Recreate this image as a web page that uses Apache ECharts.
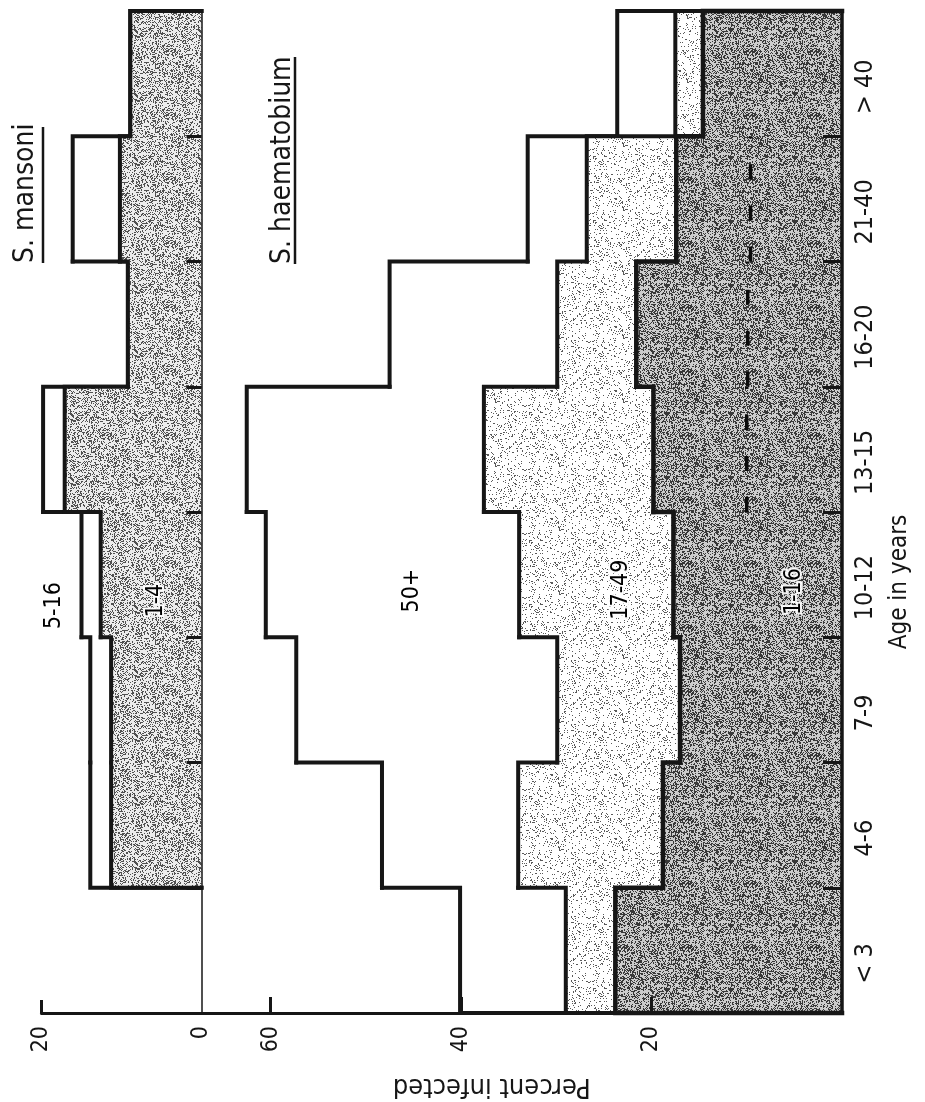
<!DOCTYPE html>
<html>
<head>
<meta charset="utf-8">
<script src="https://cdn.jsdelivr.net/npm/echarts@6/dist/echarts.min.js"></script>
<style>
html,body{margin:0;padding:0;background:#ffffff;}
#chart{width:925px;height:1102px;}
</style>
</head>
<body>
<div id="chart"></div>
<script>
// ---------------- data ----------------
const ageGroups = ['< 3', '4-6', '7-9', '10-12', '13-15', '16-20', '21-40', '> 40'];

// S. mansoni, percent infected
const mansoni_1_4  = [null, 11.3, 11.3, 12.6, 17.1, 9.2, 10.2, 8.9];
const mansoni_5_16 = [null, 13.9, 13.9, 15.0, 19.8, 9.2, 16.1, 8.9];

// S. haematobium, percent infected
const haem_1_16   = [23.8, 18.8, 17.0, 17.7, 19.8, 21.6, 17.4, 14.6];
const haem_17_49  = [29.0, 34.0, 29.9, 33.9, 37.6, 29.9, 26.8, 17.5];
const haem_50plus = [40.1, 48.3, 57.3, 60.5, 62.5, 47.5, 33.0, 23.6];
const haem_dashed = [null, null, null, null, 10.0, 9.9, 9.6, null];

// tick labels
const mansoniTickLabels = [0, 20];
const mansoniTicks = [20];
const haemTicks = [20, 40, 60];

// ---------------- styling ----------------
const FONT = "'Liberation Sans Narrow','DejaVu Sans Condensed','Liberation Sans',sans-serif";
const INK = '#161616';

function stipple(dark, light, density, seed) {
  const size = 64;
  const c = document.createElement('canvas');
  c.width = size; c.height = size;
  const ctx = c.getContext('2d');
  ctx.fillStyle = light;
  ctx.fillRect(0, 0, size, size);
  ctx.fillStyle = dark;
  for (let y = 0; y < size; y++) {
    for (let x = 0; x < size; x++) {
      let h = Math.imul(x + 3 + seed, 374761393) ^ Math.imul(y + 11, 668265263);
      h = Math.imul(h ^ (h >>> 13), 1274126177);
      h ^= h >>> 16;
      if ((h >>> 0) / 4294967296 < density) ctx.fillRect(x, y, 1, 1);
    }
  }
  return { image: c, repeat: 'repeat' };
}

const fillDark   = stipple('#383838', '#cccccc', 0.43, 1);
const fillMedium = stipple('#505050', '#ececec', 0.33, 5);
const fillLight  = stipple('#5a5a5a', '#ffffff', 0.11, 9);

function stepSeries(o) {
  const vals = o.values;
  return {
    type: 'custom',
    name: o.name,
    coordinateSystem: 'cartesian2d',
    xAxisIndex: o.axis,
    yAxisIndex: o.axis,
    z: o.z,
    silent: true,
    data: vals.map((v, i) => [v == null ? '-' : v, i]),
    encode: { x: 0, y: 1 },
    renderItem: function (params, api) {
      const i = params.dataIndex;
      const v = vals[i];
      if (v == null) return null;
      const p = api.coord([v, i]);
      const base = api.coord([0, i]);
      const h = api.size([0, 1])[1];
      const yTop = p[1] - h / 2;
      const yBot = p[1] + h / 2;
      const next = vals[i + 1];
      const xNext = (next == null) ? base[0] : api.coord([next, i + 1])[0];
      const prev = i > 0 ? vals[i - 1] : null;
      const pts = [];
      if (prev == null) pts.push([base[0], yBot]);
      pts.push([p[0], yBot], [p[0], yTop], [xNext, yTop]);
      const children = [
        { type: 'rect', z2: 0,
          shape: { x: p[0], y: yTop - 0.5, width: base[0] - p[0], height: h + 1 },
          style: { fill: o.fill } },
        { type: 'polyline', z2: 10,
          shape: { points: pts },
          style: { stroke: INK, lineWidth: o.lw, fill: null, lineCap: 'square', lineJoin: 'miter' } }
      ];
      if (o.label && o.label.index === i) {
        const lp = api.coord([o.label.value, i]);
        const st = { text: o.label.text, font: '23px ' + FONT, fill: '#000000',
                     align: 'center', verticalAlign: 'middle' };
        if (o.label.halo) { st.stroke = 'rgba(255,255,255,0.9)'; st.lineWidth = 4; st.strokeFirst = true; }
        children.push({
          type: 'text', z2: 20, x: lp[0], y: lp[1] + o.label.dy, rotation: Math.PI / 2,
          style: st
        });
      }
      return { type: 'group', children: children };
    }
  };
}

function dashedSeries(vals, axis) {
  return {
    type: 'custom', name: 'dashed', coordinateSystem: 'cartesian2d',
    xAxisIndex: axis, yAxisIndex: axis, z: 6, silent: true,
    data: vals.map((v, i) => [v == null ? '-' : v, i]),
    encode: { x: 0, y: 1 },
    renderItem: function (params, api) {
      const i = params.dataIndex;
      const v = vals[i];
      if (v == null) return null;
      const p = api.coord([v, i]);
      const h = api.size([0, 1])[1];
      return {
        type: 'line',
        shape: { x1: p[0], y1: p[1] + h / 2, x2: p[0], y2: p[1] - h / 2 },
        style: { stroke: '#0c0c0c', lineWidth: 3.5, lineDash: [15, 26] }
      };
    }
  };
}

const chart = echarts.init(document.getElementById('chart'), null, { renderer: 'canvas' });

const option = {
  backgroundColor: '#ffffff',
  animation: false,
  grid: [
    { left: 41.5, width: 160, top: 11, height: 1002, outerBoundsMode: 'none', containLabel: false },
    { left: 201.5, width: 640.5, top: 11, height: 1002, outerBoundsMode: 'none', containLabel: false }
  ],
  xAxis: [
    { gridIndex: 0, type: 'value', inverse: true, min: 0, max: 20, z: 10,
      axisLine: { show: true, onZero: false, lineStyle: { color: INK, width: 3 } },
      axisTick: { show: true, inside: true, length: 13, customValues: mansoniTicks, lineStyle: { color: INK, width: 3 } },
      axisLabel: { show: true, customValues: mansoniTickLabels, rotate: 90, margin: 13, fontSize: 23, fontFamily: FONT, color: INK },
      splitLine: { show: false } },
    { gridIndex: 1, type: 'value', inverse: true, min: 0, max: 67.25, z: 10,
      axisLine: { show: true, onZero: false, lineStyle: { color: INK, width: 3 } },
      axisTick: { show: true, inside: true, length: 16, customValues: haemTicks, lineStyle: { color: INK, width: 3 } },
      axisLabel: { show: true, customValues: haemTicks, rotate: 90, margin: 13, fontSize: 23, fontFamily: FONT, color: INK },
      splitLine: { show: false },
      name: 'Percent infected', nameLocation: 'middle', nameRotate: 180, nameGap: 60,
      nameTextStyle: { fontSize: 27, fontFamily: FONT, color: INK, padding: [0, 0, 0, 60] } }
  ],
  yAxis: [
    { gridIndex: 0, type: 'category', data: ageGroups, position: 'right', z: 10,
      axisLine: { show: true, lineStyle: { color: INK, width: 1.5 } },
      axisTick: { show: true, inside: true, length: 15, lineStyle: { color: INK, width: 3 } },
      axisLabel: { show: false },
      splitLine: { show: false } },
    { gridIndex: 1, type: 'category', data: ageGroups, position: 'right', z: 10,
      axisLine: { show: true, lineStyle: { color: INK, width: 3.5 } },
      axisTick: { show: true, inside: true, length: 19, lineStyle: { color: INK, width: 3 } },
      axisLabel: { show: true, interval: 0, rotate: 90, margin: 11, fontSize: 25, fontFamily: FONT, color: INK, padding: [0, 26, 0, 0] },
      splitLine: { show: false },
      name: 'Age in years', nameLocation: 'middle', nameRotate: 90, nameGap: 46,
      nameTextStyle: { fontSize: 24, fontFamily: FONT, color: INK, padding: [0, 140, 0, 0] } }
  ],
  graphic: [
    { type: 'group', x: 40, y: 263, rotation: Math.PI / 2, silent: true,
      children: [
        { type: 'text', style: { text: 'S. mansoni', font: '28px ' + FONT, fill: INK,
            align: 'left', verticalAlign: 'bottom' } },
        { type: 'line', shape: { x1: 0, y1: 3, x2: 136, y2: 3 }, style: { stroke: INK, lineWidth: 2.5 } }
      ] },
    { type: 'group', x: 297, y: 264, rotation: Math.PI / 2, silent: true,
      children: [
        { type: 'text', style: { text: 'S. haematobium', font: '28px ' + FONT, fill: INK,
            align: 'left', verticalAlign: 'bottom' } },
        { type: 'line', shape: { x1: 0, y1: -2, x2: 207, y2: -2 }, style: { stroke: INK, lineWidth: 2.5 } }
      ] }
  ],
  series: [
    stepSeries({ name: 'S. mansoni 5-16', values: mansoni_5_16, axis: 0, fill: '#ffffff', lw: 4, z: 2,
                 label: { text: '5-16', index: 3, value: 18.4, dy: 31 } }),
    stepSeries({ name: 'S. mansoni 1-4', values: mansoni_1_4, axis: 0, fill: fillMedium, lw: 4, z: 3,
                 label: { text: '1-4', index: 3, value: 5.7, dy: 26, halo: true } }),
    stepSeries({ name: 'S. haematobium 50+', values: haem_50plus, axis: 1, fill: '#ffffff', lw: 4, z: 2,
                 label: { text: '50+', index: 3, value: 45.1, dy: 16 } }),
    stepSeries({ name: 'S. haematobium 17-49', values: haem_17_49, axis: 1, fill: fillLight, lw: 4, z: 3,
                 label: { text: '17-49', index: 3, value: 23.2, dy: 15, halo: true } }),
    stepSeries({ name: 'S. haematobium 1-16', values: haem_1_16, axis: 1, fill: fillDark, lw: 4.5, z: 4,
                 label: { text: '1-16', index: 3, value: 5.0, dy: 17, halo: true } }),
    dashedSeries(haem_dashed, 1)
  ]
};

chart.setOption(option);
</script>
</body>
</html>
